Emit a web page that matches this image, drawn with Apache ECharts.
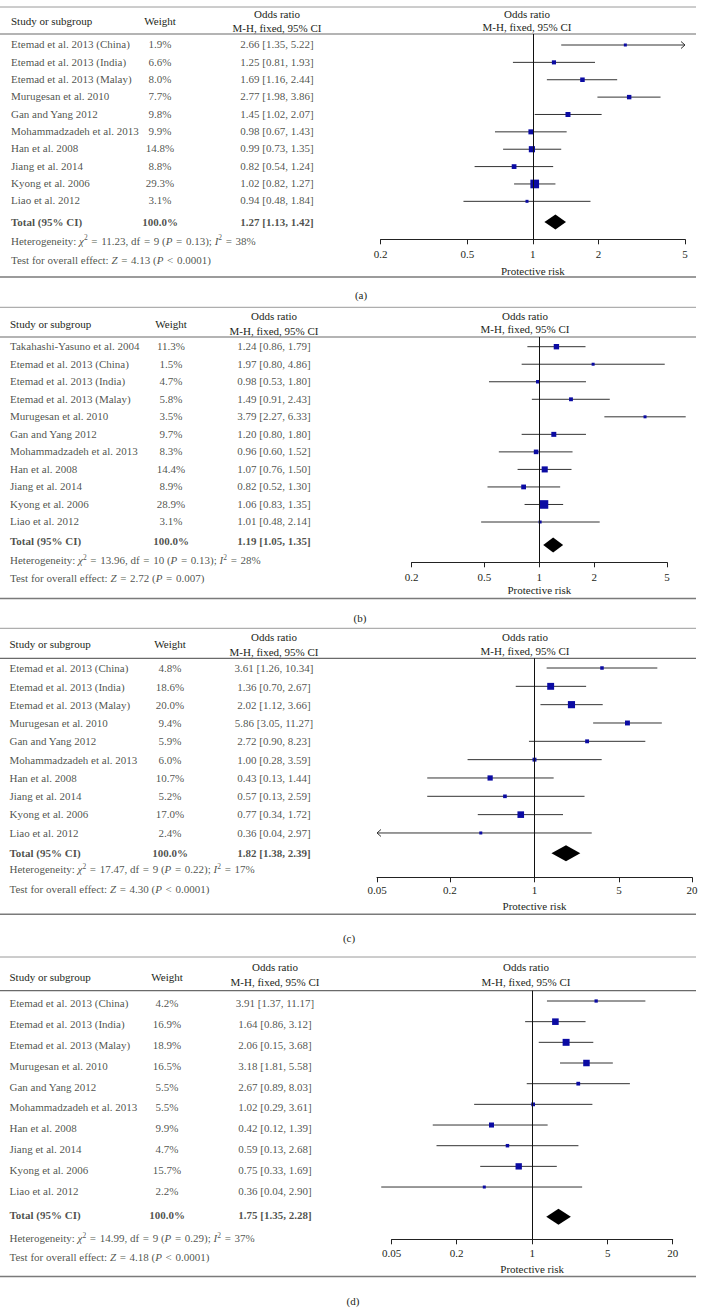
<!DOCTYPE html>
<html><head><meta charset="utf-8">
<script src="https://cdn.jsdelivr.net/npm/echarts@6/dist/echarts.min.js"></script>
<style>html,body{margin:0;padding:0;background:#fff}#c{width:704px;height:1313px}</style>
</head><body><div id="c"></div>
<script>
// ---------------- DATA ----------------
const studiesA = ['Etemad et al. 2013 (China)','Etemad et al. 2013 (India)','Etemad et al. 2013 (Malay)','Murugesan et al. 2010','Gan and Yang 2012','Mohammadzadeh et al. 2013','Han et al. 2008','Jiang et al. 2014','Kyong et al. 2006','Liao et al. 2012'];
const weightsA = [1.9, 6.6, 8.0, 7.7, 9.8, 9.9, 14.8, 8.8, 29.3, 3.1];
const orA = [2.66, 1.25, 1.69, 2.77, 1.45, 0.98, 0.99, 0.82, 1.02, 0.94];
const loA = [1.35, 0.81, 1.16, 1.98, 1.02, 0.67, 0.73, 0.54, 0.82, 0.48];
const hiA = [5.22, 1.93, 2.44, 3.86, 2.07, 1.43, 1.35, 1.24, 1.27, 1.84];
const ciTextA = ['2.66 [1.35, 5.22]','1.25 [0.81, 1.93]','1.69 [1.16, 2.44]','2.77 [1.98, 3.86]','1.45 [1.02, 2.07]','0.98 [0.67, 1.43]','0.99 [0.73, 1.35]','0.82 [0.54, 1.24]','1.02 [0.82, 1.27]','0.94 [0.48, 1.84]'];
const totalA = [1.27, 1.13, 1.42];
const totalTextA = '1.27 [1.13, 1.42]';
const hetA = ['11.23', '9', '0.13', '38'];
const effA = ['4.13', '<', '0.0001'];
const ticksA = [0.2, 0.5, 1, 2, 5];

const studiesB = ['Takahashi-Yasuno et al. 2004','Etemad et al. 2013 (China)','Etemad et al. 2013 (India)','Etemad et al. 2013 (Malay)','Murugesan et al. 2010','Gan and Yang 2012','Mohammadzadeh et al. 2013','Han et al. 2008','Jiang et al. 2014','Kyong et al. 2006','Liao et al. 2012'];
const weightsB = [11.3, 1.5, 4.7, 5.8, 3.5, 9.7, 8.3, 14.4, 8.9, 28.9, 3.1];
const orB = [1.24, 1.97, 0.98, 1.49, 3.79, 1.20, 0.96, 1.07, 0.82, 1.06, 1.01];
const loB = [0.86, 0.80, 0.53, 0.91, 2.27, 0.80, 0.60, 0.76, 0.52, 0.83, 0.48];
const hiB = [1.79, 4.86, 1.80, 2.43, 6.33, 1.80, 1.52, 1.50, 1.30, 1.35, 2.14];
const ciTextB = ['1.24 [0.86, 1.79]','1.97 [0.80, 4.86]','0.98 [0.53, 1.80]','1.49 [0.91, 2.43]','3.79 [2.27, 6.33]','1.20 [0.80, 1.80]','0.96 [0.60, 1.52]','1.07 [0.76, 1.50]','0.82 [0.52, 1.30]','1.06 [0.83, 1.35]','1.01 [0.48, 2.14]'];
const totalB = [1.19, 1.05, 1.35];
const totalTextB = '1.19 [1.05, 1.35]';
const hetB = ['13.96', '10', '0.13', '28'];
const effB = ['2.72', '=', '0.007'];
const ticksB = [0.2, 0.5, 1, 2, 5];

const studiesC = ['Etemad et al. 2013 (China)','Etemad et al. 2013 (India)','Etemad et al. 2013 (Malay)','Murugesan et al. 2010','Gan and Yang 2012','Mohammadzadeh et al. 2013','Han et al. 2008','Jiang et al. 2014','Kyong et al. 2006','Liao et al. 2012'];
const weightsC = [4.8, 18.6, 20.0, 9.4, 5.9, 6.0, 10.7, 5.2, 17.0, 2.4];
const orC = [3.61, 1.36, 2.02, 5.86, 2.72, 1.00, 0.43, 0.57, 0.77, 0.36];
const loC = [1.26, 0.70, 1.12, 3.05, 0.90, 0.28, 0.13, 0.13, 0.34, 0.04];
const hiC = [10.34, 2.67, 3.66, 11.27, 8.23, 3.59, 1.44, 2.59, 1.72, 2.97];
const ciTextC = ['3.61 [1.26, 10.34]','1.36 [0.70, 2.67]','2.02 [1.12, 3.66]','5.86 [3.05, 11.27]','2.72 [0.90, 8.23]','1.00 [0.28, 3.59]','0.43 [0.13, 1.44]','0.57 [0.13, 2.59]','0.77 [0.34, 1.72]','0.36 [0.04, 2.97]'];
const totalC = [1.82, 1.38, 2.39];
const totalTextC = '1.82 [1.38, 2.39]';
const hetC = ['17.47', '9', '0.22', '17'];
const effC = ['4.30', '<', '0.0001'];
const ticksC = [0.05, 0.2, 1, 5, 20];

const studiesD = ['Etemad et al. 2013 (China)','Etemad et al. 2013 (India)','Etemad et al. 2013 (Malay)','Murugesan et al. 2010','Gan and Yang 2012','Mohammadzadeh et al. 2013','Han et al. 2008','Jiang et al. 2014','Kyong et al. 2006','Liao et al. 2012'];
const weightsD = [4.2, 16.9, 18.9, 16.5, 5.5, 5.5, 9.9, 4.7, 15.7, 2.2];
const orD = [3.91, 1.64, 2.06, 3.18, 2.67, 1.02, 0.42, 0.59, 0.75, 0.36];
const loD = [1.37, 0.86, 1.15, 1.81, 0.89, 0.29, 0.12, 0.13, 0.33, 0.04];
const hiD = [11.17, 3.12, 3.68, 5.58, 8.03, 3.61, 1.39, 2.68, 1.69, 2.90];
const ciTextD = ['3.91 [1.37, 11.17]','1.64 [0.86, 3.12]','2.06 [0.15, 3.68]','3.18 [1.81, 5.58]','2.67 [0.89, 8.03]','1.02 [0.29, 3.61]','0.42 [0.12, 1.39]','0.59 [0.13, 2.68]','0.75 [0.33, 1.69]','0.36 [0.04, 2.90]'];
const totalD = [1.75, 1.35, 2.28];
const totalTextD = '1.75 [1.35, 2.28]';
const hetD = ['14.99', '9', '0.29', '37'];
const effD = ['4.18', '<', '0.0001'];
const ticksD = [0.05, 0.2, 1, 5, 20];

// ---------------- LAYOUT ----------------
const FONT = "'Liberation Serif', 'DejaVu Serif', serif";
const FS = 11;
const TXT = '#231f20';
const LINE_RIGHT = 696;
const SP = '\u2004'; // wider space around relation signs

const panels = [
  {label:'(a)', studies:studiesA, weights:weightsA, or:orA, lo:loA, hi:hiA, ci:ciTextA, total:totalA, totalText:totalTextA, het:hetA, eff:effA, ticks:ticksA, arrows:true,
   L:{topLine:7, hdrLine:34, hdrStudyY:21, hdrOR1:14, hdrOR2:28, plotHdr1:14, plotHdr2:27, plotHdrX:527,
      textFirst:44.3, textStep:17.33, textTotal:221.5, plotFirst:45, plotStep:17.37, plotTotal:222,
      hetY:240.5, effY:259.5, axisY:239.3, xL:380.7, xR:685, labelY:254, nameY:271, bottomLine:277,
      capX:361, capY:295, colName:11, colW:160, colOR:277, diamondH:15}},
  {label:'(b)', studies:studiesB, weights:weightsB, or:orB, lo:loB, hi:hiB, ci:ciTextB, total:totalB, totalText:totalTextB, het:hetB, eff:effB, ticks:ticksB, arrows:false,
   L:{topLine:307.3, hdrLine:337, hdrStudyY:324, hdrOR1:316, hdrOR2:331, plotHdr1:316, plotHdr2:329.3, plotHdrX:525,
      textFirst:346, textStep:17.53, textTotal:540.7, plotFirst:346.7, plotStep:17.53, plotTotal:545,
      hetY:560, effY:578, axisY:562.3, xL:411.7, xR:667, labelY:577.3, nameY:590, bottomLine:598.5,
      capX:360, capY:618, colName:10, colW:171, colOR:274, diamondH:15}},
  {label:'(c)', studies:studiesC, weights:weightsC, or:orC, lo:loC, hi:hiC, ci:ciTextC, total:totalC, totalText:totalTextC, het:hetC, eff:effC, ticks:ticksC, arrows:true,
   L:{topLine:628.3, hdrLine:658.3, hdrStudyY:644.3, hdrOR1:636.7, hdrOR2:651.7, plotHdr1:637, plotHdr2:650.7, plotHdrX:525,
      textFirst:668.3, textStep:18.27, textTotal:852.7, plotFirst:668, plotStep:18.33, plotTotal:853.3,
      hetY:869.3, effY:889, axisY:877.3, xL:377, xR:692, labelY:890, nameY:906.7, bottomLine:914.3,
      capX:349, capY:938.3, colName:9.5, colW:170, colOR:274, diamondH:16}},
  {label:'(d)', studies:studiesD, weights:weightsD, or:orD, lo:loD, hi:hiD, ci:ciTextD, total:totalD, totalText:totalTextD, het:hetD, eff:effD, ticks:ticksD, arrows:false,
   L:{topLine:957, hdrLine:990.7, hdrStudyY:976.7, hdrOR1:967, hdrOR2:981.7, plotHdr1:967, plotHdr2:981.7, plotHdrX:526,
      textFirst:1003.3, textStep:20.82, textTotal:1215, plotFirst:1001, plotStep:20.67, plotTotal:1216.7,
      hetY:1238, effY:1256.7, axisY:1239.3, xL:391.7, xR:672.7, labelY:1253.3, nameY:1269.3, bottomLine:1276.5,
      capX:353, capY:1301, colName:9.5, colW:167, colOR:275, diamondH:16}}
];

const lg = Math.log10;
const fmt = v => Number(v.toPrecision(6)).toString();

const option = {animation:false, backgroundColor:'#ffffff', grid:[], xAxis:[], yAxis:[], series:[], graphic:{elements:[]}};
const G = option.graphic.elements;

function txt(x, y, text, align) {
  G.push({type:'text', x:x, y:y, silent:true,
    style:{text:text, fill:TXT, fontFamily:FONT, fontSize:FS, fontWeight:'normal', textAlign:align || 'left', textVerticalAlign:'middle'}});
}
function hline(y, color, w) {
  G.push({type:'line', silent:true, shape:{x1:0, y1:y, x2:LINE_RIGHT, y2:y}, style:{stroke:color, lineWidth:w}});
}
const richStyles = {
  n:{fontFamily:FONT, fontSize:FS, fontWeight:'normal', color:TXT, lineHeight:14, verticalAlign:'middle'},
  i:{fontFamily:FONT, fontSize:FS, fontWeight:'normal', fontStyle:'italic', color:TXT, lineHeight:14, verticalAlign:'middle'},
  s:{fontFamily:FONT, fontSize:7.5, fontWeight:'normal', color:TXT, lineHeight:7, verticalAlign:'top'}
};

panels.forEach(p => {
  const L = p.L;
  const amin = p.ticks[0], amax = p.ticks[p.ticks.length - 1];

  // ---- static lines and headers ----
  hline(L.topLine, '#9a9a9a', 1);
  hline(L.hdrLine, '#6a6a6a', 1.2);
  hline(L.bottomLine, '#7a7a7a', 1.4);
  txt(L.colName, L.hdrStudyY, 'Study or subgroup', 'left');
  txt(L.colW, L.hdrStudyY, 'Weight', 'center');
  txt(L.colOR, L.hdrOR1, 'Odds ratio', 'center');
  txt(L.colOR, L.hdrOR2, 'M-H, fixed, 95% CI', 'center');
  txt(L.plotHdrX, L.plotHdr1, 'Odds ratio', 'center');
  txt(L.plotHdrX, L.plotHdr2, 'M-H, fixed, 95% CI', 'center');
  txt(L.capX, L.capY, p.label, 'center');

  // ---- table grid ----
  const gT = option.grid.length;
  option.grid.push({left:0, top:L.hdrLine, width:360, height:L.axisY - L.hdrLine});
  option.xAxis.push({type:'value', gridIndex:gT, min:0, max:360, show:false});
  const tMin = -(L.textFirst - L.hdrLine) / L.textStep;
  option.yAxis.push({type:'value', gridIndex:gT, inverse:true, show:false, min:tMin, max:tMin + (L.axisY - L.hdrLine) / L.textStep});
  const tIdx = y => (y - L.textFirst) / L.textStep;
  const bold = {fontWeight:'bold'};
  const colSeries = (x, texts, totalText, pos) => ({
    type:'scatter', xAxisIndex:gT, yAxisIndex:gT, symbolSize:0, silent:true, clip:false,
    data: texts.map((t, i) => ({value:[x, i], name:t})).concat([{value:[x, tIdx(L.textTotal)], name:totalText, label:bold}]),
    label:{show:true, position:pos, distance:0, formatter:'{b}', fontFamily:FONT, fontSize:FS, color:TXT}
  });
  option.series.push(colSeries(L.colName, p.studies, 'Total (95% CI)', 'right'));
  option.series.push(colSeries(L.colW, p.weights.map(w => w.toFixed(1) + '%'), '100.0%', 'inside'));
  option.series.push(colSeries(L.colOR, p.ci, p.totalText, 'inside'));

  // footer statistics lines (rich text labels)
  const eq = SP + '=' + SP;
  const hetStr = '{n|Heterogeneity: }{i|χ}{s|2}{n|' + eq + p.het[0] + ', df' + eq + p.het[1] + ' (}{i|P}{n|' + eq + p.het[2] + '); }{i|I}{s|2}{n|' + eq + p.het[3] + '%}';
  const effStr = '{n|Test for overall effect: }{i|Z}{n|' + eq + p.eff[0] + ' (}{i|P}{n|' + SP + p.eff[1] + SP + p.eff[2] + ')}';
  option.series.push({
    type:'scatter', xAxisIndex:gT, yAxisIndex:gT, symbolSize:0, silent:true, clip:false,
    data:[{value:[L.colName, tIdx(L.hetY)], name:hetStr}, {value:[L.colName, tIdx(L.effY)], name:effStr}],
    label:{show:true, position:'right', distance:0, formatter:'{b}', rich:richStyles, fontFamily:FONT, fontSize:FS, color:TXT}
  });

  // ---- plot grid ----
  const gP = option.grid.length;
  option.grid.push({left:L.xL, top:L.hdrLine, width:L.xR - L.xL, height:L.axisY - L.hdrLine});
  option.xAxis.push({type:'value', gridIndex:gP, position:'bottom', min:lg(amin), max:lg(amax),
    axisLine:{show:true, onZero:false, lineStyle:{color:'#222', width:1}},
    axisTick:{show:true, customValues:p.ticks.map(lg), length:5, lineStyle:{color:'#222', width:1}},
    axisLabel:{show:true, customValues:p.ticks.map(lg), formatter:v => fmt(Math.pow(10, v)), margin:L.labelY - L.axisY - 6,
      fontFamily:FONT, fontSize:FS, color:TXT},
    splitLine:{show:false},
    name:'Protective risk', nameLocation:'middle', nameGap:L.nameY - L.axisY - 6,
    nameTextStyle:{fontFamily:FONT, fontSize:FS, color:TXT}});
  const pMin = -(L.plotFirst - L.hdrLine) / L.plotStep;
  option.yAxis.push({type:'value', gridIndex:gP, inverse:true, show:false, min:pMin, max:pMin + (L.axisY - L.hdrLine) / L.plotStep});
  const pTot = (L.plotTotal - L.plotFirst) / L.plotStep;

  option.series.push({
    type:'custom', xAxisIndex:gP, yAxisIndex:gP, clip:false, silent:true,
    data: p.studies.map((s, i) => [lg(p.or[i]), i, p.lo[i], p.hi[i], p.weights[i], p.or[i]]),
    encode:{x:0, y:1},
    renderItem:(params, api) => {
      const i = api.value(1), lo = api.value(2), hi = api.value(3), w = api.value(4), or = api.value(5);
      let l = lo, h = hi, arL = false, arR = false;
      if (p.arrows) {
        if (l < amin) { l = amin; arL = true; }
        if (h > amax) { h = amax; arR = true; }
      }
      const a = api.coord([lg(l), i]), b = api.coord([lg(h), i]), c = api.coord([lg(or), i]);
      const ch = [{type:'line', shape:{x1:a[0], y1:a[1], x2:b[0], y2:b[1]}, style:{stroke:'#333', lineWidth:1}}];
      if (arR) ch.push({type:'polyline', shape:{points:[[b[0] - 4, b[1] - 3.5], [b[0], b[1]], [b[0] - 4, b[1] + 3.5]]}, style:{stroke:'#333', fill:null, lineWidth:1}});
      if (arL) ch.push({type:'polyline', shape:{points:[[a[0] + 4, a[1] - 3.5], [a[0], a[1]], [a[0] + 4, a[1] + 3.5]]}, style:{stroke:'#333', fill:null, lineWidth:1}});
      const s = Math.max(3, 1.6 * Math.sqrt(w));
      ch.push({type:'rect', shape:{x:c[0] - s / 2, y:c[1] - s / 2, width:s, height:s}, style:{fill:'#0b0ba3'}});
      return {type:'group', children:ch};
    },
    markLine:{silent:true, symbol:['none', 'none'], label:{show:false}, animation:false,
      lineStyle:{color:'#111', width:1, type:'solid'}, data:[{xAxis:0}]}
  });
  option.series.push({
    type:'custom', xAxisIndex:gP, yAxisIndex:gP, clip:false, silent:true,
    data:[[lg(p.total[0]), pTot, p.total[1], p.total[2]]],
    encode:{x:0, y:1},
    renderItem:(params, api) => {
      const y = api.value(1);
      const c = api.coord([api.value(0), y]);
      const a = api.coord([lg(api.value(2)), y]);
      const b = api.coord([lg(api.value(3)), y]);
      const hh = L.diamondH / 2;
      return {type:'polygon', shape:{points:[[a[0], c[1]], [c[0], c[1] - hh], [b[0], c[1]], [c[0], c[1] + hh]]}, style:{fill:'#000'}};
    }
  });
});

const chart = echarts.init(document.getElementById('c'), null, {renderer:'svg', width:704, height:1313});
chart.setOption(option);
</script>
</body></html>
